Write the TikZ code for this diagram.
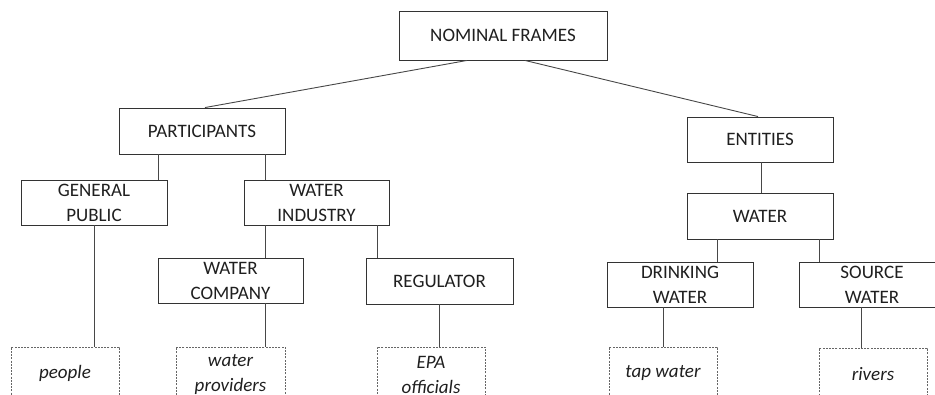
\documentclass[tikz,border=0pt]{standalone}
\usepackage{fontspec}
\setmainfont{Carlito}
\begin{document}
\begin{tikzpicture}[x=1pt,y=-1pt,
  box/.style={draw=black!80, line width=0.9pt, fill=white, text=black!88, align=center,
    inner sep=0pt, font=\fontsize{19}{25}\selectfont},
  ex/.style={draw=black!60, line width=0.8pt, dash pattern=on 2pt off 1.2pt, text=black!88,
    align=center, inner sep=0pt, font=\fontsize{19}{25}\selectfont\itshape},
  link/.style={draw=black!72, line width=0.9pt}]
\useasboundingbox (0,0) rectangle (935,394);
\clip (0,0) rectangle (935,394);
% structural nodes
\node[box, minimum width=208pt, minimum height=49pt] (nom) at (503,35.5) {NOMINAL FRAMES};
\node[box, minimum width=166pt, minimum height=46pt] (part) at (202,131) {PARTICIPANTS};
\node[box, minimum width=146pt, minimum height=45pt] (ent) at (760,139.5) {ENTITIES};
\node[box, minimum width=146pt, minimum height=45pt] (gp) at (94,202.5) {GENERAL\\PUBLIC};
\node[box, minimum width=145pt, minimum height=45pt] (wi) at (316.5,202.5) {WATER\\INDUSTRY};
\node[box, minimum width=146pt, minimum height=46pt] (wat) at (760,216) {WATER};
\node[box, minimum width=145pt, minimum height=45pt] (wc) at (230.5,280.5) {WATER\\COMPANY};
\node[box, minimum width=147pt, minimum height=46pt] (reg) at (439.5,281) {REGULATOR};
\node[box, minimum width=146pt, minimum height=45pt] (dw) at (680,284.5) {DRINKING\\WATER};
\node[box, minimum width=146pt, minimum height=45pt] (sw) at (872,284.5) {SOURCE\\WATER};
% example nodes
\node[ex, minimum width=108pt, minimum height=52pt] (peo) at (65,373) {people};
\node[ex, minimum width=109pt, minimum height=56pt] (wp) at (230.5,375) {water\\providers};
\node[ex, minimum width=108pt, minimum height=56pt] (epa) at (431,375) {EPA\\officials};
\node[ex, minimum width=108pt, minimum height=52pt] (tap) at (663,373) {tap water};
\node[ex, minimum width=108pt, minimum height=52pt] (riv) at (873,374) {rivers};
% connectors
\draw[link] (nom.south -| 467,0) -- (part.north -| 205,0);
\draw[link] (nom.south -| 525,0) -- (ent.north -| 758,0);
\draw[link] (part.south -| 158,0) -- (gp.north -| 158,0);
\draw[link] (part.south -| 265,0) -- (wi.north -| 265,0);
\draw[link] (gp.south -| 94,0) -- (peo.north -| 94,0);
\draw[link] (wi.south -| 265,0) -- (wc.north -| 265,0);
\draw[link] (wi.south -| 377,0) -- (reg.north -| 377,0);
\draw[link] (wc.south -| 265,0) -- (wp.north -| 265,0);
\draw[link] (reg.south -| 439,0) -- (epa.north -| 439,0);
\draw[link] (ent.south -| 761,0) -- (wat.north -| 761,0);
\draw[link] (wat.south -| 717,0) -- (dw.north -| 717,0);
\draw[link] (wat.south -| 819,0) -- (sw.north -| 819,0);
\draw[link] (dw.south -| 663,0) -- (tap.north -| 663,0);
\draw[link] (sw.south -| 861,0) -- (riv.north -| 861,0);
\end{tikzpicture}
\end{document}
